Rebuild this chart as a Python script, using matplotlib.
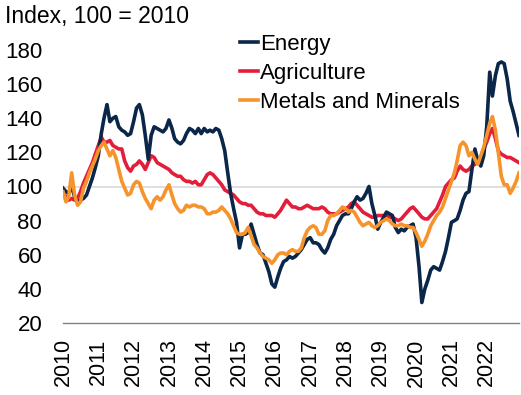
import numpy as np
import pandas as pd
import matplotlib
matplotlib.use("Agg")
import matplotlib.pyplot as plt

plt.rcParams['font.family'] = ['Liberation Sans', 'DejaVu Sans']

years = [str(y) for y in range(2010, 2023)]

energy = [99, 97, 96, 100, 94, 91, 92, 93, 95, 100, 105, 111,
          118, 131, 140, 148, 138, 140, 141, 135, 133, 132, 130, 131,
          138, 146, 148, 142, 130, 116, 130, 135, 134, 133, 132, 134,
          139, 134, 128, 126, 125, 127, 131, 134, 133, 131, 134, 131,
          134, 132, 133, 132, 134, 133, 128, 121, 108, 96, 87, 79,
          64, 72, 72, 73, 78, 72, 66, 61, 60, 55, 50, 43,
          41, 47, 52, 56, 57, 59, 58, 59, 61, 63, 66, 69,
          70, 67, 67, 66, 63, 61, 64, 69, 72, 77, 80, 83,
          84, 84, 87, 91, 94, 92, 93, 96, 100, 90, 83, 75,
          79, 82, 85, 84, 83, 76, 73, 75, 74, 76, 77, 78,
          70, 53, 32, 40, 45, 51, 53, 52, 51, 56, 62, 70,
          79, 80, 81, 86, 92, 96, 97, 110, 122, 115, 112, 118,
          135, 167, 153, 165, 172, 173, 172, 163, 150, 144, 137, 130]

agriculture = [96, 94, 92, 93, 92, 93, 97, 102, 106, 110, 114, 119,
               124, 129, 126, 126, 127, 124, 123, 122, 122, 115, 111, 109,
               112, 113, 115, 113, 110, 114, 118, 117, 114, 113, 112, 111,
               110, 108, 107, 106, 106, 104, 103, 103, 102, 103, 101, 101,
               104, 107, 108, 107, 105, 103, 101, 98, 97, 96, 95, 93,
               91, 90, 90, 89, 89, 87, 85, 84, 84, 83, 83, 83,
               82, 84, 86, 89, 92, 90, 88, 88, 87, 87, 88, 89,
               88, 87, 87, 87, 88, 87, 85, 84, 84, 84, 85, 86,
               87, 88, 90, 91, 89, 87, 85, 84, 83, 82, 82, 83,
               83, 83, 83, 82, 82, 81, 80, 81, 83, 85, 87, 88,
               86, 84, 82, 81, 81, 83, 85, 87, 91, 95, 100, 102,
               104, 105, 109, 112, 110, 109, 110, 112, 113, 115, 117, 122,
               126, 131, 134, 128, 121, 119, 118, 117, 117, 116, 115, 114]

metals = [97, 91, 94, 108, 95, 89, 91, 99, 103, 108, 112, 116,
          121, 124, 126, 122, 118, 121, 117, 110, 103, 99, 95, 96,
          101, 103, 102, 97, 93, 90, 87, 92, 94, 92, 94, 98,
          101, 95, 90, 87, 85, 86, 89, 88, 89, 89, 88, 88,
          87, 84, 84, 85, 85, 86, 88, 86, 84, 81, 77, 73,
          72, 72, 73, 76, 71, 66, 64, 61, 59, 58, 57, 55,
          57, 60, 61, 61, 60, 62, 63, 62, 62, 64, 70, 74,
          76, 77, 76, 72, 72, 74, 80, 83, 83, 84, 86, 88,
          87, 85, 86, 85, 82, 79, 77, 78, 79, 77, 76, 77,
          79, 80, 81, 80, 78, 77, 77, 78, 77, 77, 76, 76,
          73, 69, 65, 68, 72, 77, 80, 83, 85, 88, 93, 98,
          103, 108, 115, 124, 126, 124, 118, 120, 116, 113, 118, 123,
          130, 137, 141, 133, 120, 106, 101, 101, 96, 99, 103, 108]

dates = pd.date_range("2010-01-01", periods=len(energy), freq="MS")

W, H = 521, 395
fig = plt.figure(figsize=(W / 100, H / 100), dpi=100)
ax = fig.add_axes([63 / W, 1 - 323 / H, (519 - 63) / W, (323 - 50) / H])

ax.axhline(100, color="#d9d9d9", lw=1.2, zorder=1)
ax.plot(dates, energy, color="#0a2648", lw=2.6, label="Energy", zorder=3)
ax.plot(dates, agriculture, color="#e31e3a", lw=2.6, label="Agriculture", zorder=2)
ax.plot(dates, metals, color="#f7932b", lw=2.6, label="Metals and Minerals", zorder=4)

ax.set_ylim(20, 180)
ax.set_yticks(range(20, 181, 20))
ax.set_xlim(dates[0], dates[-1])
tick_dates = pd.to_datetime([f"{y}-01-01" for y in years])
ax.set_xticks(tick_dates)
ax.set_xticklabels(years, rotation=90)

for s in ["top", "right", "left"]:
    ax.spines[s].set_visible(False)
ax.spines["bottom"].set_color("#808080")
ax.spines["bottom"].set_linewidth(1.0)
ax.tick_params(axis="y", length=0, pad=15, labelsize=16)
ax.tick_params(axis="x", length=0, pad=11, labelsize=15.5)

fig.text(5 / W, 1 - 17 / H, "Index, 100 = 2010", fontsize=16.5, va="center", ha="left")

handles, labels = ax.get_legend_handles_labels()
fig.legend(handles, labels, loc="upper left", bbox_to_anchor=(240 / W, 1 - 34 / H),
           frameon=False, fontsize=16, handlelength=0.8, handletextpad=0.12,
           borderpad=0, borderaxespad=0, labelspacing=0.36)

fig.savefig("out.png", dpi=100)
